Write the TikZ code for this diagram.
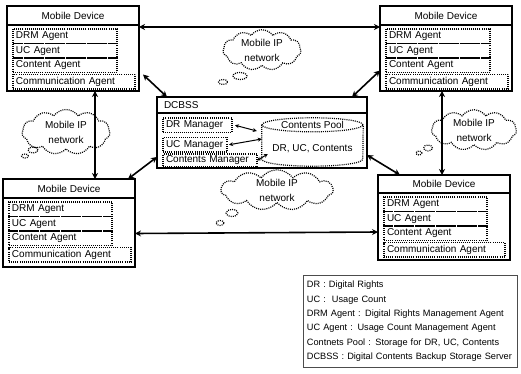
\documentclass[tikz,border=0pt]{standalone}
\usepackage{fontspec}
\setmainfont{Liberation Sans}
\usepackage{tikz}
\usetikzlibrary{shapes.symbols,arrows.meta,positioning}

\begin{document}
\begin{tikzpicture}[x=1pt, y=-1pt, font=\fontsize{10}{12}\selectfont,
    dotline/.style={dash pattern=on 1pt off 1.1pt, line width=1.2pt},
    mdbox/.style={rectangle, draw, line width=1.4pt, inner sep=0pt, outer sep=0pt, minimum width=132pt, minimum height=85pt, anchor=north west},
    mdtitle/.style={rectangle, draw, line width=1.2pt, inner sep=0pt, outer sep=0pt, minimum width=132pt, minimum height=19pt, anchor=north west},
    agent/.style={rectangle, draw, dotline, inner xsep=3pt, inner ysep=0pt, outer sep=0pt, text width=#1, align=left, minimum height=14.5pt},
    netcloud/.style={cloud, cloud puffs=11, cloud puff arc=110, aspect=2.2, draw, dotline, inner sep=0pt, align=center, font=\fontsize{10}{15}\selectfont},
    link/.style={<->, line width=1.6pt, >={Stealth[length=6pt, width=6pt]}},
    smalllink/.style={<->, line width=1pt, >={Stealth[length=4pt, width=4pt]}}
]
\useasboundingbox (0,0) rectangle (521,374);

% Mobile device (top left)
\node[mdbox] (mdTL) at (7,6) {};
\node[mdtitle] (ttlTL) at (mdTL.north west) {Mobile Device};
\node[agent=98pt, below right=23pt and 6pt of mdTL.north west] (drmTL) {DRM Agent};
\node[agent=98pt, below right=0pt and 0pt of drmTL.south west] (ucTL) {UC Agent};
\node[agent=98pt, below right=0pt and 0pt of ucTL.south west] (contTL) {Content Agent};
\node[agent=116pt, below right=2pt and 0pt of contTL.south west] (commTL) {Communication Agent};

% Mobile device (top right)
\node[mdbox] (mdTR) at (380,6) {};
\node[mdtitle] (ttlTR) at (mdTR.north west) {Mobile Device};
\node[agent=98pt, below right=23pt and 6pt of mdTR.north west] (drmTR) {DRM Agent};
\node[agent=98pt, below right=0pt and 0pt of drmTR.south west] (ucTR) {UC Agent};
\node[agent=98pt, below right=0pt and 0pt of ucTR.south west] (contTR) {Content Agent};
\node[agent=116pt, below right=2pt and 0pt of contTR.south west] (commTR) {Communication Agent};

% Mobile device (bottom left)
\node[mdbox, minimum height=88pt] (mdBL) at (3,179) {};
\node[mdtitle] (ttlBL) at (mdBL.north west) {Mobile Device};
\node[agent=97pt, below right=23pt and 6pt of mdBL.north west] (drmBL) {DRM Agent};
\node[agent=97pt, below right=0pt and 0pt of drmBL.south west] (ucBL) {UC Agent};
\node[agent=97pt, below right=0pt and 0pt of ucBL.south west] (contBL) {Content Agent};
\node[agent=116pt, below right=2pt and 0pt of contBL.south west] (commBL) {Communication Agent};

% Mobile device (bottom right)
\node[mdbox] (mdBR) at (378,175) {};
\node[mdtitle, minimum height=18pt] (ttlBR) at (mdBR.north west) {Mobile Device};
\node[agent=97pt, below right=22pt and 6pt of mdBR.north west] (drmBR) {DRM Agent};
\node[agent=97pt, below right=0pt and 0pt of drmBR.south west] (ucBR) {UC Agent};
\node[agent=97pt, below right=0pt and 0pt of ucBR.south west] (contBR) {Content Agent};
\node[agent=115pt, below right=2pt and 0pt of contBR.south west] (commBR) {Communication Agent};

% DCBSS server
\node[mdbox, minimum width=210pt, minimum height=71pt] (dcbss) at (157,97) {};
\node[mdtitle, minimum height=16pt, text width=196pt, inner xsep=7pt, align=left] (ttlDC) at (dcbss.north west) {DCBSS};
\node[agent=63pt, below right=21pt and 6pt of dcbss.north west] (drMgr) {DR Manager};
\node[agent=58pt, below right=5pt and 0pt of drMgr.south west] (ucMgr) {UC Manager};
\node[agent=88pt, minimum height=13pt, below right=2pt and 0pt of ucMgr.south west] (ctMgr) {Contents Manager};

% contents pool (cylinder)
\node[minimum width=101pt, minimum height=48pt, inner sep=0pt] (pool) at (312.5,142) {};
\draw[dotline] ([yshift=-7pt]pool.north) ellipse (50.5pt and 7pt);
\draw[dotline] ([yshift=-7pt]pool.north west) -- ([yshift=7pt]pool.south west)
    arc (180:360:50.5pt and 7pt) -- ([yshift=-7pt]pool.north east);
\node (poolTtl) at ([yshift=-7pt]pool.north) {Contents Pool};
\node (poolTxt) at ([yshift=-7pt]pool.center) {DR, UC, Contents};

\draw[smalllink] ([xshift=3pt]drMgr.east) -- ([xshift=-5pt, yshift=11pt]pool.west);
\draw[smalllink] ([xshift=2pt]ucMgr.east) -- ([yshift=3pt]pool.west);
\draw[smalllink] (ctMgr.east) -- ([xshift=6pt, yshift=-12pt]pool.west);

% Mobile IP networks
\node[netcloud, minimum width=78pt, minimum height=40pt] (netTop) at (262,50) {Mobile IP\\network};
\draw[dotline] (240,76) ellipse (7pt and 3.5pt);
\draw[dotline] (223,82) ellipse (4.5pt and 2.5pt);

\node[netcloud, minimum width=88pt, minimum height=45pt] (netLeft) at (66,132) {Mobile IP\\network};
\draw[dotline] (33,150) ellipse (5pt and 3pt);
\draw[dotline] (25,156) ellipse (3.5pt and 2pt);

\node[netcloud, minimum width=85pt, minimum height=40pt] (netRight) at (474,130) {Mobile IP\\network};
\draw[dotline] (428,148) ellipse (4.5pt and 3pt);
\draw[dotline] (419,153) ellipse (3pt and 2pt);

\node[netcloud, minimum width=112pt, minimum height=34pt] (netBot) at (277,190) {Mobile IP\\network};
\draw[dotline] (232,213) ellipse (6pt and 3.5pt);
\draw[dotline] (220,223) ellipse (4pt and 2.5pt);

% connections
\draw[link] ([yshift=-2pt]ttlTL.south east) -- ([yshift=-2pt]ttlTR.south west);
\draw[link] ([xshift=8pt]commTL.north east) -- ([xshift=10pt]dcbss.north west);
\draw[link] ([yshift=-22pt]mdTR.west) -- ([xshift=-15pt]dcbss.north east);
\draw[link] ([xshift=22pt]mdTL.south) -- ([xshift=26pt]mdBL.north);
\draw[link] ([xshift=-4pt]mdTR.south) -- ([xshift=-2pt]mdBR.north);
\draw[link] ([yshift=11pt]dcbss.south west) -- ([xshift=-7pt]mdBL.north east);
\draw[link] ([yshift=13pt]dcbss.south east) -- ([xshift=22pt]mdBR.north west);
\draw[link] ([yshift=-10.5pt]mdBL.east) -- ([yshift=-14.5pt]mdBR.west);

% legend
\node[draw=black!70, line width=0.8pt, anchor=north west, text width=207pt, inner xsep=3.5pt, minimum height=92pt, align=left, font=\fontsize{9.2}{14.4}\selectfont] (legend) at (303,275)
    {DR : Digital Rights\\
     UC :\ \ Usage Count\\
     DRM Agent : Digital Rights Management Agent\\
     UC Agent : Usage Count Management Agent\\
     Contnets Pool : Storage for DR, UC, Contents\\
     DCBSS : Digital Contents Backup Storage Server};

\end{tikzpicture}
\end{document}
